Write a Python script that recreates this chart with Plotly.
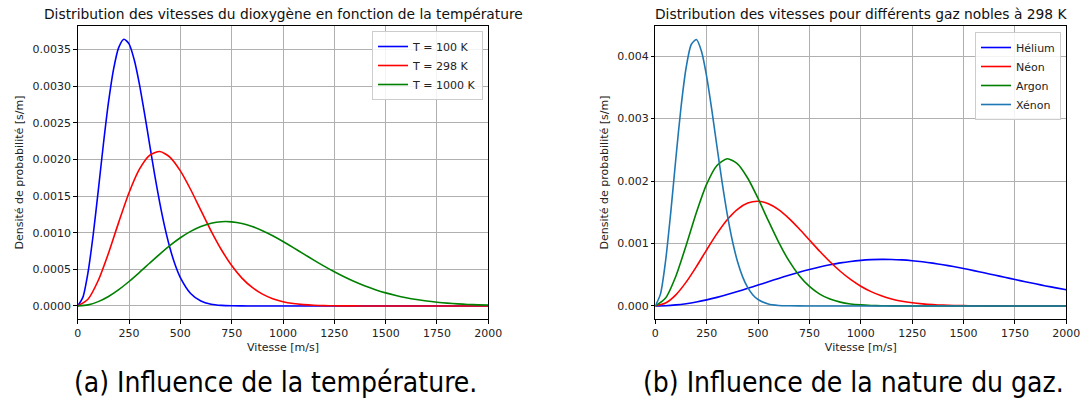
import plotly.graph_objects as go

# ---------------- data ----------------
# (a) dioxygen at various temperatures
v_o2_100 = [0, 25, 50, 75, 100, 125, 150, 175, 200, 225, 250, 275, 300, 325, 350, 375,
            400, 425, 450, 475, 500, 550, 600, 650, 700, 750, 800, 850, 900, 1000,
            1250, 1500, 1750, 2000]
f_o2_100 = [0, 0.0001176, 0.000454, 0.0009615, 0.001571, 0.002203, 0.002780, 0.003236,
            0.003529, 0.003640, 0.003576, 0.003362, 0.003035, 0.002636, 0.002209, 0.001790,
            0.001403, 0.001065, 0.000783, 0.000559, 0.000388, 0.000171, 0.0000673, 0.0000237,
            0.0000075, 0.0000021, 0.0000005, 0, 0, 0, 0, 0, 0, 0]

v_step50 = list(range(0, 2001, 50))

f_o2_298 = [0, 0.0000911, 0.000347, 0.000720, 0.001144, 0.001545, 0.001863, 0.002056,
            0.002108, 0.002028, 0.001843, 0.001589, 0.001304, 0.001022, 0.000767, 0.000551,
            0.000380, 0.000252, 0.000161, 0.0000985, 0.0000581, 0.0000331, 0.0000181,
            0.0000096, 0.0000049, 0.0000024, 0.0000011, 0.0000005, 0, 0, 0, 0, 0, 0, 0,
            0, 0, 0, 0, 0, 0]

f_o2_1000 = [0, 0.0000150, 0.0000591, 0.0001298, 0.0002230, 0.0003337, 0.0004558, 0.0005828,
             0.0007083, 0.0008260, 0.0009307, 0.0010180, 0.0010846, 0.0011287, 0.0011495,
             0.0011479, 0.0011251, 0.0010838, 0.0010268, 0.0009575, 0.0008795, 0.0007960,
             0.0007105, 0.0006254, 0.0005432, 0.0004657, 0.0003941, 0.0003294, 0.0002718,
             0.0002217, 0.0001787, 0.0001423, 0.0001120, 0.0000871, 0.0000670, 0.0000509,
             0.0000383, 0.0000285, 0.0000209, 0.0000152, 0.0000109]

# (b) noble gases at 298 K
f_he = [0, 0.00000408, 0.0000162, 0.0000362, 0.0000634, 0.0000972, 0.0001369, 0.0001816,
        0.0002301, 0.0002814, 0.0003343, 0.0003877, 0.0004405, 0.0004916, 0.0005399,
        0.0005845, 0.0006248, 0.0006599, 0.0006893, 0.0007128, 0.0007300, 0.0007410,
        0.0007456, 0.0007442, 0.0007370, 0.0007244, 0.0007069, 0.0006850, 0.0006594,
        0.0006305, 0.0005991, 0.0005655, 0.0005305, 0.0004949, 0.0004590, 0.0004232,
        0.0003880, 0.0003537, 0.0003207, 0.0002892, 0.0002594]

f_ne = [0, 0.0000459, 0.0001781, 0.0003808, 0.0006303, 0.0008987, 0.0011570, 0.0013796,
        0.0015467, 0.0016464, 0.0016751, 0.0016367, 0.0015412, 0.0014023, 0.0012354,
        0.0010556, 0.0008761, 0.0007070, 0.0005552, 0.0004243, 0.0003159, 0.0002296,
        0.0001626, 0.0001124, 0.0000758, 0.0000499, 0.0000322, 0.0000202, 0.0000124,
        0.0000074, 0.0000044, 0.0000025, 0.0000014, 0.0000007, 0, 0, 0, 0, 0, 0, 0]

f_ar = [0, 0.0001265, 0.0004762, 0.0009688, 0.0014958, 0.0019497, 0.0022496, 0.0023565,
        0.0022750, 0.0020446, 0.0017214, 0.0013646, 0.0010217, 0.0007243, 0.0004878,
        0.0003122, 0.0001902, 0.0001105, 0.0000612, 0.0000323, 0.0000163, 0.0000079,
        0.0000036, 0.0000016, 0.0000007, 0, 0, 0, 0, 0, 0, 0, 0, 0, 0, 0, 0, 0, 0, 0, 0]

v_xe = [0, 25, 50, 75, 100, 125, 150, 175, 200, 225, 250, 275, 300, 325, 350, 375, 400,
        425, 450, 475, 500, 550, 600, 650, 700, 750, 1000, 1250, 1500, 1750, 2000]
f_xe = [0, 0.0001891, 0.0007198, 0.0014907, 0.0023602, 0.0031775, 0.0038139, 0.0041859,
        0.0042651, 0.0040743, 0.0036726, 0.0031389, 0.0025530, 0.0019806, 0.0014692,
        0.0010433, 0.0007108, 0.0004648, 0.0002919, 0.0001763, 0.0001024, 0.0000309,
        0.0000080, 0.0000018, 0.0000003, 0, 0, 0, 0, 0, 0]

x_ticks = [0, 250, 500, 750, 1000, 1250, 1500, 1750, 2000]
titles = ["Distribution des vitesses du dioxygène en fonction de la température",
          "Distribution des vitesses pour différents gaz nobles à 298 K"]
captions = ["(a) Influence de la température.", "(b) Influence de la nature du gaz."]
x_label = "Vitesse [m/s]"
y_label = "Densité de probabilité [s/m]"

# ---------------- figure ----------------
W, H = 1084, 405
FONT = "DejaVu Sans, Verdana, sans-serif"
fig = go.Figure()

def add(x, y, name, color, xa, ya, leg):
    fig.add_trace(go.Scatter(x=x, y=y, name=name, mode="lines",
                             line=dict(color=color, width=1.6, shape="spline",
                                       smoothing=0.7),
                             xaxis=xa, yaxis=ya, legend=leg))

add(v_o2_100, f_o2_100, "T = 100 K", "#0000ff", "x", "y", "legend")
add(v_step50, f_o2_298, "T = 298 K", "#ff0000", "x", "y", "legend")
add(v_step50, f_o2_1000, "T = 1000 K", "#008000", "x", "y", "legend")
add(v_step50, f_he, "Hélium", "#0000ff", "x2", "y2", "legend2")
add(v_step50, f_ne, "Néon", "#ff0000", "x2", "y2", "legend2")
add(v_step50, f_ar, "Argon", "#008000", "x2", "y2", "legend2")
add(v_xe, f_xe, "Xénon", "#1f77b4", "x2", "y2", "legend2")

# pixel geometry of the two axes boxes
L1, R1 = 77.7, 488.3
L2, R2 = 655.3, 1066.3
TOP, BOT = 25.7, 319.3

common_x = dict(range=[0, 2000], tickvals=x_ticks, ticks="outside", ticklen=3.5,
                tickwidth=0.8, tickcolor="#000", showgrid=True, gridcolor="#b0b0b0",
                gridwidth=0.8, zeroline=False, showline=True, linecolor="#000",
                linewidth=0.9, mirror=True, automargin=False,
                tickfont=dict(family=FONT, size=11, color="#222"),
                title=dict(text=x_label, font=dict(family=FONT, size=11, color="#222"),
                           standoff=4))
common_y = dict(ticks="outside", ticklen=3.5, tickwidth=0.8, tickcolor="#000",
                showgrid=True, gridcolor="#b0b0b0", gridwidth=0.8, zeroline=False,
                showline=True, linecolor="#000", linewidth=0.9, mirror=True,
                automargin=False,
                tickfont=dict(family=FONT, size=11, color="#222"),
                title=dict(text=y_label, font=dict(family=FONT, size=11, color="#222"),
                           standoff=6))

ydom = [(H - BOT) / H, (H - TOP) / H]
fig.update_layout(
    width=W, height=H, margin=dict(l=0, r=0, t=0, b=0, autoexpand=False),
    paper_bgcolor="white", plot_bgcolor="white",
    font=dict(family=FONT, color="#222"),
    xaxis=dict(domain=[L1 / W, R1 / W], anchor="y", **common_x),
    yaxis=dict(domain=ydom, anchor="x", range=[-0.000182, 0.003824],
               dtick=0.0005, tick0=0, tickformat=".4f", **common_y),
    xaxis2=dict(domain=[L2 / W, R2 / W], anchor="y2", **common_x),
    yaxis2=dict(domain=ydom, anchor="x2", range=[-0.000214, 0.004487],
                dtick=0.001, tick0=0, tickformat=".3f", **common_y),
    legend=dict(x=483 / W, xanchor="right", y=(H - 31) / H, yanchor="top",
                bgcolor="rgba(255,255,255,0.85)", bordercolor="#cccccc", borderwidth=1,
                font=dict(family=FONT, size=11, color="#222"), itemwidth=30,
                tracegroupgap=0),
    legend2=dict(x=1061 / W, xanchor="right", y=(H - 32) / H, yanchor="top",
                 bgcolor="rgba(255,255,255,0.85)", bordercolor="#cccccc", borderwidth=1,
                 font=dict(family=FONT, size=11, color="#222"), itemwidth=30,
                 tracegroupgap=0),
    showlegend=True,
)

for cx, t in zip([(L1 + R1) / 2, (L2 + R2) / 2], titles):
    fig.add_annotation(x=cx / W, y=(H - 14) / H, xref="paper", yref="paper",
                       text=t, showarrow=False, xanchor="center", yanchor="middle",
                       font=dict(family=FONT, size=13.8, color="#111"))

for cx, t in zip([275, 853], captions):
    fig.add_annotation(x=cx / W, y=(H - 382) / H, xref="paper", yref="paper",
                       text=t, showarrow=False, xanchor="center", yanchor="middle",
                       font=dict(family="Liberation Sans Narrow, DejaVu Sans Condensed, Roboto Condensed, sans-serif",
                                 size=28, color="#000"))

fig.write_html("out.html", config={"displayModeBar": False},
               post_script="document.body.style.margin='0';document.body.style.overflow='hidden';")
